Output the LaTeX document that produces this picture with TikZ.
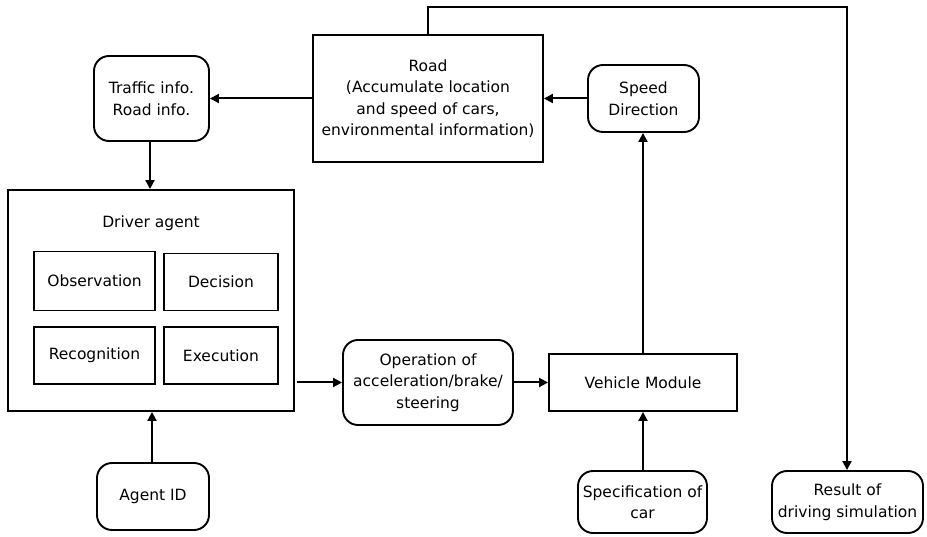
\documentclass[tikz,border=0pt]{standalone}
\usepackage{fontspec}
\setmainfont{DejaVu Sans}
\usetikzlibrary{arrows.meta}
\begin{document}
\begin{tikzpicture}[x=1pt,y=-1pt,
  line width=1.9pt,
  every node/.style={font=\fontsize{15.5}{21.5}\selectfont, align=center, inner sep=0pt},
  sqbox/.style={draw, rectangle, minimum width=#1},
  rndbox/.style={draw, rectangle, rounded corners=15pt, minimum width=#1},
  flow/.style={line width=2pt, -{Triangle[length=9pt,width=9pt]}}]
\useasboundingbox (0,0) rectangle (927,537);

% upper row
\node[sqbox=230pt, minimum height=127pt] (road) at (428,98.5)
  {Road\\(Accumulate location\\and speed of cars,\\environmental information)};
\node[rndbox=115pt, minimum height=85pt] (traffic) at (151.5,98.5) {Traffic info.\\Road info.};
\node[rndbox=111pt, minimum height=67pt] (speed) at (643.5,98.5) {Speed\\Direction};

% driver agent with its four sub-blocks
\node[sqbox=286pt, minimum height=221pt] (driver) at (151,300.5) {};
\node (dlabel) at (151,223) {Driver agent};
\node[sqbox=121pt, minimum height=59pt] (obs) at (94.5,281) {Observation};
\node[sqbox=114pt, minimum height=57pt] (dec) at (221,282) {Decision};
\node[sqbox=121pt, minimum height=57pt] (rec) at (94.5,355.5) {Recognition};
\node[sqbox=114pt, minimum height=57pt] (exe) at (221,355.5) {Execution};

% middle row
\node[rndbox=170pt, minimum height=85pt] (op) at (428,382.5) {Operation of\\acceleration/brake/\\steering};
\node[sqbox=188pt, minimum height=57pt] (veh) at (643,382.5) {Vehicle Module};

% bottom row
\node[rndbox=112pt, minimum height=67pt] (agent) at (153,496.5) {Agent ID};
\node[rndbox=129pt, minimum height=62pt] (spec) at (642.5,502) {Specification of\\car};
\node[rndbox=151pt, minimum height=62pt] (result) at (847.5,502) {Result of\\driving simulation};

\coordinate (topleft) at (428,7);
\coordinate (topright) at (847,7);

% connectors
\draw[flow] (road.west) -- (traffic.east);
\draw[flow] (speed.west) -- (road.east);
\draw[flow] (traffic.south -| 150,0) -- (driver.north -| 150,0);
\draw[flow] (agent.north -| 152,0) -- (driver.south -| 152,0);
\draw[flow] ([xshift=2pt]driver.east |- op.west) -- (op.west);
\draw[flow] (op.east) -- (veh.west);
\draw[flow] (veh.north) -- (speed.south -| veh.north);
\draw[flow] (spec.north -| veh.south) -- (veh.south);
\draw[flow] (road.north) -- (topleft) -- (topright) -- (result.north -| topright);
\end{tikzpicture}
\end{document}
